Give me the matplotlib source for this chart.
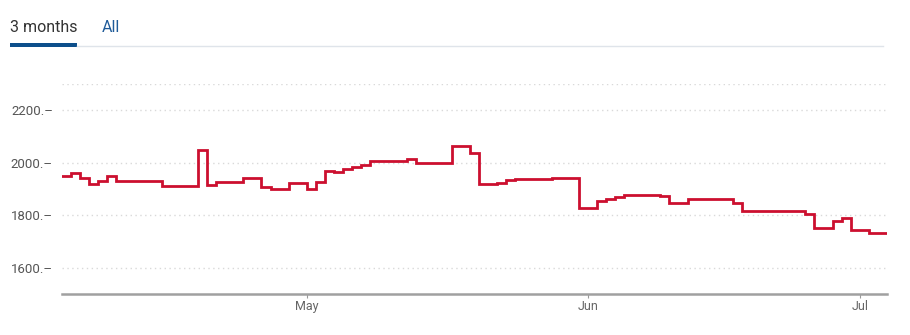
import numpy as np
import pandas as pd
import matplotlib
matplotlib.use("Agg")
import matplotlib.pyplot as plt
import matplotlib.dates as mdates

plt.rcParams["font.family"] = ["Roboto", "DejaVu Sans"]

# daily values, Apr 4 .. Jul 3 (step chart, one value per day)
start_date = "2024-04-04"
step_values = [
    1951, 1962, 1943, 1920, 1932, 1951,          # Apr 4-9
    1932, 1932, 1932, 1932, 1932,                # Apr 10-14
    1913, 1913, 1913, 1913, 2050, 1917,          # Apr 15-20
    1928, 1928, 1928, 1943, 1943, 1909,          # Apr 21-26
    1901, 1901, 1923, 1923,                      # Apr 27-30
    1899, 1925, 1968, 1963, 1975, 1983, 1990,    # May 1-7
    2006, 2006, 2006, 2006, 2016,                # May 8-12
    2000, 2000, 2000, 2000, 2063, 2063, 2038,    # May 13-19
    1918, 1918, 1924, 1933, 1937, 1937,          # May 20-25
    1938, 1938, 1940, 1940, 1940,                # May 26-30
    1829, 1829, 1856, 1861, 1871,                # May 31 - Jun 4
    1879, 1879, 1879, 1879, 1873, 1848, 1848,    # Jun 5-11
    1861, 1861, 1861, 1861, 1861, 1845,          # Jun 12-17
    1817, 1817, 1817, 1817, 1817, 1817, 1817,    # Jun 18-24
    1803, 1750, 1750, 1779, 1790, 1743, 1743,    # Jun 25 - Jul 1
    1732, 1732,                                  # Jul 2-3
]
y_ticks = [1600, 1800, 2000, 2200]
y_tick_labels = ["1600.\u2013", "1800.\u2013", "2000.\u2013", "2200.\u2013"]
x_tick_dates = ["2024-05-01", "2024-06-01", "2024-07-01"]
x_tick_labels = ["May", "Jun", "Jul"]
tab_labels = ["3 months", "All"]

dates = pd.date_range(start_date, periods=len(step_values) + 1, freq="D")
values = step_values + [step_values[-1]]

fig = plt.figure(figsize=(9.1, 3.35), dpi=100)
ax = fig.add_axes([62 / 910, 41 / 335, 825 / 910, 210 / 335])

ax.plot(dates, values, drawstyle="steps-post", color="#cc0f2f", lw=2.0,
        solid_joinstyle="miter")

ax.set_xlim(dates[0], dates[-1])
ax.set_ylim(1500, 2300)

ax.set_yticks(y_ticks)
ax.set_yticklabels(y_tick_labels)
ax.set_xticks(pd.to_datetime(x_tick_dates))
ax.set_xticklabels(x_tick_labels)

# dotted gridlines incl. the top border line
for g in y_ticks + [2300]:
    ax.axhline(g, color="#d9d9d9", lw=1.0, ls=(0, (1, 2.5)), zorder=0)

for s in ["left", "right", "top"]:
    ax.spines[s].set_visible(False)
ax.spines["bottom"].set_color("#a0a0a0")
ax.spines["bottom"].set_linewidth(1.8)

# the dash after the y labels is part of the label text
ax.tick_params(axis="y", length=0, pad=6.5, labelsize=9.5, labelcolor="#555555")
ax.tick_params(axis="x", length=3, width=0.8, color="#999999", pad=1.5,
               labelsize=9, labelcolor="#666666")

# tabs above the chart
fig.text(10 / 910, 1 - 27 / 335, tab_labels[0], fontsize=11.5, color="#333333",
         va="center", ha="left")
fig.text(102 / 910, 1 - 27 / 335, tab_labels[1], fontsize=11.5, color="#1f5b99",
         va="center", ha="left")
fig.add_artist(plt.Line2D([77 / 910, 883 / 910], [1 - 46 / 335, 1 - 46 / 335],
                          color="#dfe4ea", lw=1.0))
fig.add_artist(plt.Rectangle((10 / 910, 1 - 47 / 335), 67 / 910, 3.5 / 335,
                             color="#0d4f8b", lw=0))

fig.savefig("out.png", dpi=100)
